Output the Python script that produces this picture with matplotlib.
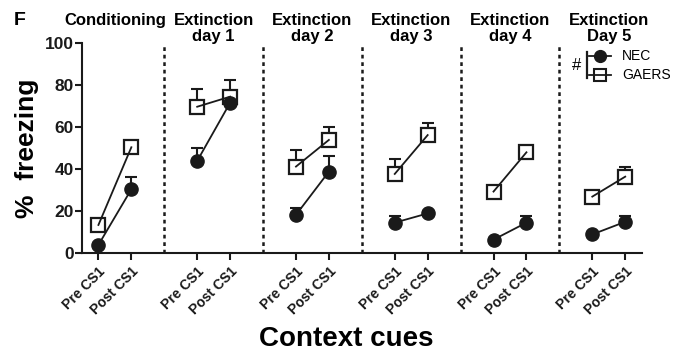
import numpy as np
import matplotlib.pyplot as plt

plt.rcParams['font.family'] = ['Liberation Sans', 'DejaVu Sans']
plt.rcParams['font.weight'] = 'bold'

titles = ['Conditioning', 'Extinction\nday 1', 'Extinction\nday 2',
          'Extinction\nday 3', 'Extinction\nday 4', 'Extinction\nDay 5']
ticklabels = ['Pre CS1', 'Post CS1']

nec_pre = [4, 44, 18.3, 14.6, 6.5, 9]
nec_pre_sem = [0, 6.3, 3.1, 3.2, 0, 0]
nec_post = [30.5, 71.7, 38.9, 19, 14.6, 15]
nec_post_sem = [6, 1, 7.6, 1, 3.2, 2.8]
gaers_pre = [13.5, 69.8, 41.3, 37.8, 29.4, 27]
gaers_pre_sem = [1, 8.5, 8.1, 7.1, 2, 1.9]
gaers_post = [50.5, 74.6, 54, 56.3, 48.1, 36.5]
gaers_post_sem = [1.5, 7.9, 6.3, 5.6, 2.7, 4.8]

fig = plt.figure(figsize=(6.83, 3.53), dpi=100)
ax = fig.add_axes([0.120, 0.2824, 0.8195, 0.5949])

for i in range(len(titles)):
    xs = [3 * i, 3 * i + 1]
    # nec
    ax.errorbar(xs, [nec_pre[i], nec_post[i]],
                yerr=[[0, 0], [nec_pre_sem[i], nec_post_sem[i]]],
                fmt='none', ecolor='#1a1a1a', elinewidth=1.5, capsize=4.5, capthick=1.5,
                zorder=2, clip_on=False)
    ax.plot(xs, [nec_pre[i], nec_post[i]], '-', color='#1a1a1a', lw=1.3,
            marker='o', ms=9.5, mfc='#1a1a1a', mec='#1a1a1a', zorder=4, clip_on=False)
    # gaers
    ax.errorbar(xs, [gaers_pre[i], gaers_post[i]],
                yerr=[[0, 0], [gaers_pre_sem[i], gaers_post_sem[i]]],
                fmt='none', ecolor='#1a1a1a', elinewidth=1.5, capsize=4.5, capthick=1.5,
                zorder=2, clip_on=False)
    ax.plot(xs, [gaers_pre[i], gaers_post[i]], '-', color='#1a1a1a', lw=1.3, zorder=5)
    ax.plot(xs, [gaers_pre[i], gaers_post[i]], 's', ms=10.5, mfc='white', mec='#1a1a1a',
            mew=1.6, zorder=3, clip_on=False)
    ax.text(3 * i + 0.5, 1.146, titles[i], transform=ax.get_xaxis_transform(),
            ha='center', va='top', fontsize=12, fontweight='bold', linespacing=1.15)
    if i < len(titles) - 1:
        ax.axvline(3 * i + 2, color='#1a1a1a', lw=1.8, ls=(0, (1.5, 1.5)), zorder=1)

ax.set_xlim(-0.5, 16.5)
ax.set_ylim(0, 100)
ax.set_yticks([0, 20, 40, 60, 80, 100])
xt = []
xl = []
for i in range(len(titles)):
    xt += [3 * i, 3 * i + 1]
    xl += ticklabels
ax.set_xticks(xt)
ax.set_xticklabels(xl, rotation=45, ha='right', rotation_mode='anchor', fontsize=10)
ax.tick_params(axis='both', direction='out', length=5, width=1.5, colors='#1a1a1a')
ax.tick_params(axis='y', labelsize=12.5, pad=1)
ax.tick_params(axis='x', pad=3)
for s in ['top', 'right']:
    ax.spines[s].set_visible(False)
for s in ['left', 'bottom']:
    ax.spines[s].set_linewidth(1.5)
    ax.spines[s].set_color('#1a1a1a')

ax.set_ylabel('%  freezing', fontsize=19, fontweight='bold', labelpad=4)
ax.set_xlabel('Context cues', fontsize=20, fontweight='bold')
ax.xaxis.set_label_coords(0.473, -0.345)

# legend
ax.plot([0.905, 0.945], [0.94, 0.94], '-', color='#1a1a1a', lw=1.3, transform=ax.transAxes, clip_on=False)
ax.plot([0.925], [0.94], 'o', ms=8.5, color='#1a1a1a', transform=ax.transAxes, clip_on=False)
ax.plot([0.905, 0.945], [0.85, 0.85], '-', color='#1a1a1a', lw=1.3, transform=ax.transAxes, clip_on=False, zorder=6)
ax.plot([0.925], [0.85], 's', ms=9, mfc='white', mec='#1a1a1a', mew=1.5, transform=ax.transAxes, clip_on=False)
ax.plot([0.902, 0.902], [0.835, 0.96], '-', color='#1a1a1a', lw=1.6, transform=ax.transAxes, clip_on=False)
ax.text(0.884, 0.895, '#', transform=ax.transAxes, ha='center', va='center', fontsize=12, fontweight='normal')
ax.text(0.965, 0.94, 'NEC', transform=ax.transAxes, ha='left', va='center', fontsize=10, fontweight='normal')
ax.text(0.965, 0.85, 'GAERS', transform=ax.transAxes, ha='left', va='center', fontsize=10, fontweight='normal')

fig.text(0.02, 0.965, 'F', ha='left', va='top', fontsize=14, fontweight='bold')

fig.savefig('out.png', dpi=100)
